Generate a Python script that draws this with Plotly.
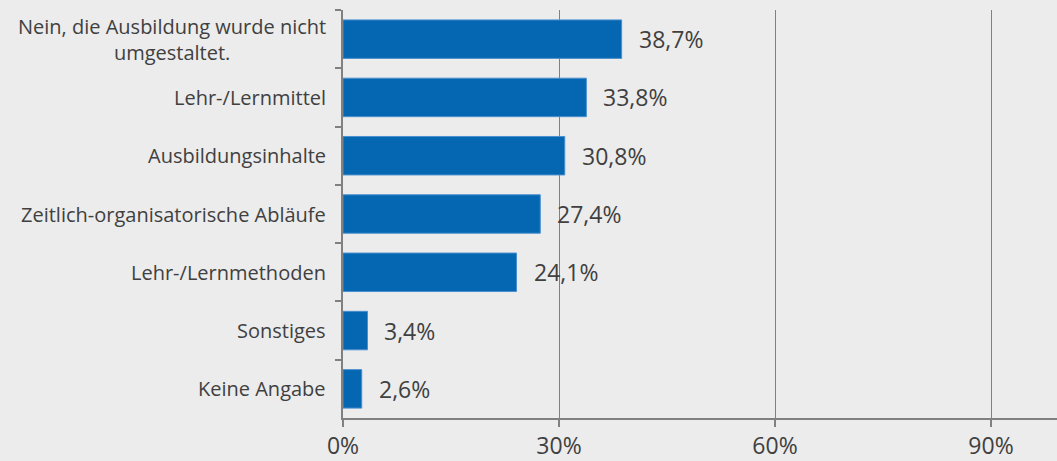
import plotly.graph_objects as go

# Categories (top to bottom) and shares in percent
categories = ["Nein, die Ausbildung wurde nicht<br>umgestaltet.",
              "Lehr-/Lernmittel",
              "Ausbildungsinhalte",
              "Zeitlich-organisatorische Abläufe",
              "Lehr-/Lernmethoden",
              "Sonstiges",
              "Keine Angabe"]
values = [38.7, 33.8, 30.8, 27.4, 24.1, 3.4, 2.6]
value_labels = ["38,7%", "33,8%", "30,8%", "27,4%", "24,1%", "3,4%", "2,6%"]
x_ticks = [0, 30, 60, 90]
x_tick_labels = ["0%", "30%", "60%", "90%"]

bar_color = "#0567b1"
bar_edge = "#4a8fcf"
bg_color = "#ececec"
text_color = "#404040"
line_color = "#808080"
font_family = "Open Sans"

fig = go.Figure(go.Bar(x=values, y=categories, orientation="h",
                       marker={"color": bar_color, "line": {"width": 1, "color": bar_edge}},
                       hoverinfo="skip"))

# Category labels as annotations so the wrapped label is centred line by line
for cat in categories:
    fig.add_annotation(x=0, xref="paper", y=cat, yref="y", text=cat,
                       showarrow=False, xanchor="right", yanchor="middle",
                       align="center", xshift=-15,
                       font={"family": font_family, "size": 20, "color": text_color})

# Value labels next to the bars
for cat, val, lab in zip(categories, values, value_labels):
    fig.add_annotation(x=val, y=cat, text=lab, showarrow=False,
                       xanchor="left", yanchor="middle", xshift=15,
                       font={"family": font_family, "size": 23, "color": text_color})

fig.update_layout(
    width=1057, height=461,
    margin={"l": 343, "r": 0, "t": 10, "b": 39},
    paper_bgcolor=bg_color, plot_bgcolor=bg_color,
    bargap=0.34, showlegend=False,
    font={"family": font_family, "color": text_color},
    xaxis={"range": [0, 714 / 7.2], "tickvals": x_ticks, "ticktext": x_tick_labels,
           "showgrid": True, "gridcolor": line_color, "gridwidth": 1,
           "zeroline": False, "showline": True, "linecolor": line_color, "linewidth": 1.5,
           "ticks": "outside", "ticklen": 7, "tickcolor": line_color, "tickwidth": 1.5,
           "tickfont": {"size": 23, "color": text_color}, "fixedrange": True},
    yaxis={"autorange": "reversed", "showticklabels": False, "showgrid": False,
           "showline": True, "linecolor": line_color, "linewidth": 1.5,
           "ticks": "outside", "ticklen": 6, "tickcolor": line_color, "tickwidth": 1.5,
           "tickson": "boundaries", "fixedrange": True},
)

# Remove the default page margin so the figure fills the window exactly
fig.write_html("out.html", config={"displayModeBar": False},
               post_script="document.body.style.margin='0';")
